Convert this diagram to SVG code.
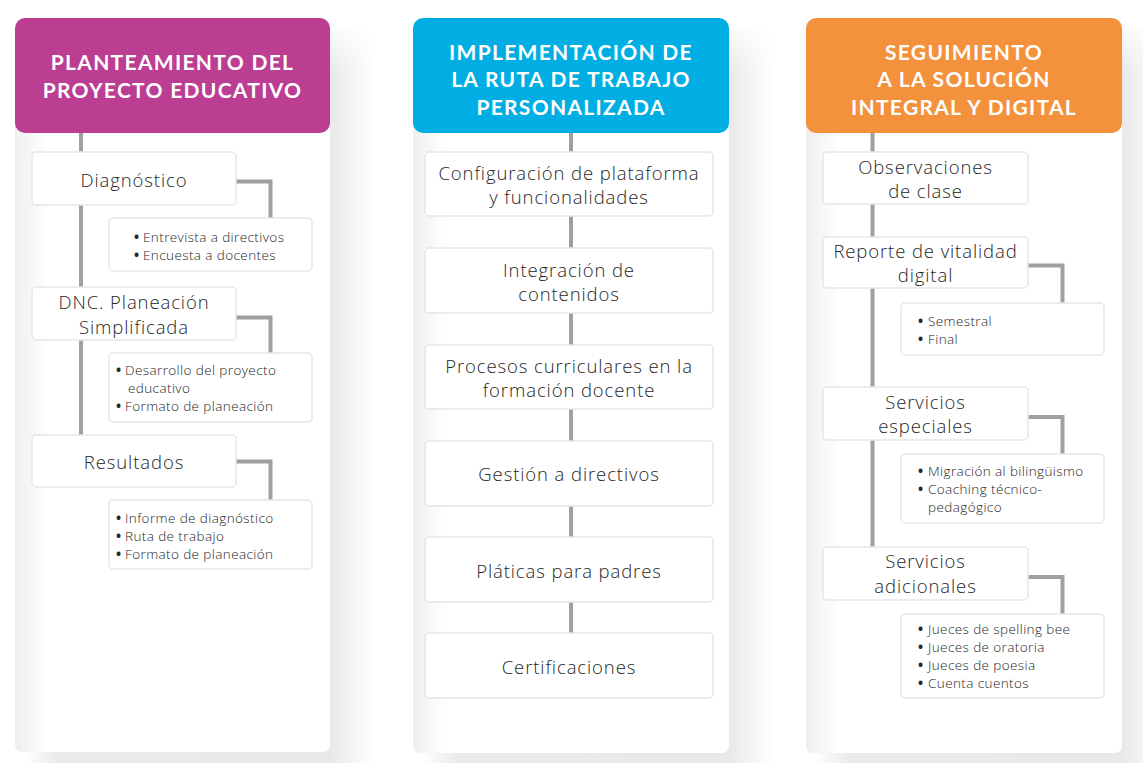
<svg xmlns="http://www.w3.org/2000/svg" width="1143" height="763" viewBox="0 0 1143 763">
<defs>
<linearGradient id="shadowH" x1="0" y1="0" x2="1" y2="0">
<stop offset="0" stop-color="#ffffff"/>
<stop offset="0.09" stop-color="#ebebeb"/>
<stop offset="0.87" stop-color="#e8e8e8"/>
<stop offset="1" stop-color="#ffffff"/>
</linearGradient>
<linearGradient id="topFade" x1="0" y1="0" x2="0" y2="1">
<stop offset="0" stop-color="#ffffff" stop-opacity="1"/>
<stop offset="1" stop-color="#ffffff" stop-opacity="0"/>
</linearGradient>
<linearGradient id="panelFill" x1="0" y1="0" x2="1" y2="0">
<stop offset="0" stop-color="#eeeeee"/>
<stop offset="0.1" stop-color="#ffffff"/>
<stop offset="1" stop-color="#ffffff"/>
</linearGradient>
</defs>
<style>
.panel{fill:url(#panelFill)}
.shadow{fill:url(#shadowH)}
.fade{fill:url(#topFade)}
.box{fill:#ffffff;stroke:#e6e6e6;stroke-width:1.5}
.line{fill:none;stroke:#9fa0a0;stroke-width:4}
.title{font-family:Lato,"Liberation Sans",sans-serif;font-weight:700;font-size:21px;fill:#ffffff;text-anchor:middle;letter-spacing:1.3px}
.t{font-family:"Open Sans","Liberation Sans",sans-serif;font-weight:300;font-size:18.5px;fill:#262626;text-anchor:middle;letter-spacing:0.9px}
.s{font-family:"Open Sans","Liberation Sans",sans-serif;font-weight:300;font-size:13.5px;fill:#262626;letter-spacing:0.4px}
.b{font-weight:700}
</style>
<rect width="1143" height="763" fill="#ffffff"/>

<g id="backgrounds">
<rect class="shadow" x="25" y="30" width="350" height="745"/>
<rect class="fade" x="328" y="18" width="50" height="55"/>
<rect class="shadow" x="423" y="30" width="350" height="745"/>
<rect class="fade" x="727" y="18" width="50" height="55"/>
<rect class="shadow" x="816" y="30" width="350" height="745"/>
<rect class="fade" x="1120" y="18" width="50" height="55"/>
<rect class="panel" x="15" y="30" width="315" height="722" rx="7"/>
<rect class="panel" x="413" y="30" width="316" height="723" rx="7"/>
<rect class="panel" x="806" y="30" width="316" height="723" rx="7"/>
</g>

<g id="connectors">
<line class="line" x1="81" y1="133" x2="81" y2="435"/>
<polyline class="line" points="236,181.5 270.5,181.5 270.5,218"/>
<polyline class="line" points="236,317.5 270.5,317.5 270.5,353"/>
<polyline class="line" points="236,461.5 270.5,461.5 270.5,500"/>
<line class="line" x1="571" y1="133" x2="571" y2="633"/>
<line class="line" x1="872.5" y1="133" x2="872.5" y2="547"/>
<polyline class="line" points="1028,265.5 1062.5,265.5 1062.5,303"/>
<polyline class="line" points="1028,417 1062.5,417 1062.5,454"/>
<polyline class="line" points="1028,577 1062.5,577 1062.5,614"/>
</g>

<g id="header-planteamiento">
<rect x="15" y="18" width="315" height="115" rx="10" fill="#bc3e93"/>
<text class="title" x="172.5" y="70">PLANTEAMIENTO DEL</text>
<text class="title" x="172.5" y="98">PROYECTO EDUCATIVO</text>
</g>
<g id="header-implementacion">
<rect x="413" y="18" width="316" height="115" rx="10" fill="#00aee3"/>
<text class="title" x="571" y="60">IMPLEMENTACIÓN DE</text>
<text class="title" x="571" y="87">LA RUTA DE TRABAJO</text>
<text class="title" x="571" y="115">PERSONALIZADA</text>
</g>
<g id="header-seguimiento">
<rect x="806" y="18" width="316" height="115" rx="10" fill="#f4913d"/>
<text class="title" x="964" y="60">SEGUIMIENTO</text>
<text class="title" x="964" y="87">A LA SOLUCIÓN</text>
<text class="title" x="964" y="115">INTEGRAL Y DIGITAL</text>
</g>

<g id="diagnostico">
<rect class="box" x="32" y="152" width="204" height="53" rx="4"/>
<text class="t" x="134" y="187">Diagnóstico</text>
</g>
<g id="diagnostico-items">
<rect class="box" x="109" y="218" width="203" height="53" rx="4"/>
<text class="s" y="242"><tspan class="b" x="134">•</tspan><tspan x="143">Entrevista a directivos</tspan></text>
<text class="s" y="260"><tspan class="b" x="134">•</tspan><tspan x="143">Encuesta a docentes</tspan></text>
</g>
<g id="dnc">
<rect class="box" x="32" y="287" width="204" height="53" rx="4"/>
<text class="t" x="134" y="309">DNC. Planeación</text>
<text class="t" x="134" y="334">Simplificada</text>
</g>
<g id="dnc-items">
<rect class="box" x="109" y="353" width="203" height="69" rx="4"/>
<text class="s" y="375"><tspan class="b" x="116">•</tspan><tspan x="125">Desarrollo del proyecto</tspan></text>
<text class="s" x="128" y="393">educativo</text>
<text class="s" y="411"><tspan class="b" x="116">•</tspan><tspan x="125">Formato de planeación</tspan></text>
</g>
<g id="resultados">
<rect class="box" x="32" y="435" width="204" height="52" rx="4"/>
<text class="t" x="134" y="469">Resultados</text>
</g>
<g id="resultados-items">
<rect class="box" x="109" y="500" width="203" height="69" rx="4"/>
<text class="s" y="523"><tspan class="b" x="116">•</tspan><tspan x="125">Informe de diagnóstico</tspan></text>
<text class="s" y="541"><tspan class="b" x="116">•</tspan><tspan x="125">Ruta de trabajo</tspan></text>
<text class="s" y="559"><tspan class="b" x="116">•</tspan><tspan x="125">Formato de planeación</tspan></text>
</g>

<g id="configuracion">
<rect class="box" x="425" y="152" width="288" height="64" rx="4"/>
<text class="t" x="569" y="180">Configuración de plataforma</text>
<text class="t" x="569" y="204">y funcionalidades</text>
</g>
<g id="integracion">
<rect class="box" x="425" y="248" width="288" height="65" rx="4"/>
<text class="t" x="569" y="277">Integración de</text>
<text class="t" x="569" y="301">contenidos</text>
</g>
<g id="procesos">
<rect class="box" x="425" y="345" width="288" height="64" rx="4"/>
<text class="t" x="569" y="373">Procesos curriculares en la</text>
<text class="t" x="569" y="397">formación docente</text>
</g>
<g id="gestion">
<rect class="box" x="425" y="441" width="288" height="65" rx="4"/>
<text class="t" x="569" y="481">Gestión a directivos</text>
</g>
<g id="platicas">
<rect class="box" x="425" y="537" width="288" height="65" rx="4"/>
<text class="t" x="569" y="578">Pláticas para padres</text>
</g>
<g id="certificaciones">
<rect class="box" x="425" y="633" width="288" height="65" rx="4"/>
<text class="t" x="569" y="674">Certificaciones</text>
</g>

<g id="observaciones">
<rect class="box" x="823" y="152" width="205" height="52" rx="4"/>
<text class="t" x="925.5" y="174">Observaciones</text>
<text class="t" x="925.5" y="198">de clase</text>
</g>
<g id="reporte">
<rect class="box" x="823" y="237" width="205" height="51" rx="4"/>
<text class="t" x="925.5" y="258">Reporte de vitalidad</text>
<text class="t" x="925.5" y="282">digital</text>
</g>
<g id="reporte-items">
<rect class="box" x="901" y="303" width="203" height="52" rx="4"/>
<text class="s" y="326"><tspan class="b" x="918">•</tspan><tspan x="928">Semestral</tspan></text>
<text class="s" y="344"><tspan class="b" x="918">•</tspan><tspan x="928">Final</tspan></text>
</g>
<g id="especiales">
<rect class="box" x="823" y="387" width="205" height="53" rx="4"/>
<text class="t" x="925.5" y="409">Servicios</text>
<text class="t" x="925.5" y="433">especiales</text>
</g>
<g id="especiales-items">
<rect class="box" x="901" y="454" width="203" height="69" rx="4"/>
<text class="s" y="476"><tspan class="b" x="918">•</tspan><tspan x="928">Migración al bilingüismo</tspan></text>
<text class="s" y="494"><tspan class="b" x="918">•</tspan><tspan x="928">Coaching técnico-</tspan></text>
<text class="s" x="928" y="512">pedagógico</text>
</g>
<g id="adicionales">
<rect class="box" x="823" y="547" width="205" height="53" rx="4"/>
<text class="t" x="925.5" y="568">Servicios</text>
<text class="t" x="925.5" y="593">adicionales</text>
</g>
<g id="adicionales-items">
<rect class="box" x="901" y="614" width="203" height="84" rx="4"/>
<text class="s" y="634"><tspan class="b" x="918">•</tspan><tspan x="928">Jueces de spelling bee</tspan></text>
<text class="s" y="652"><tspan class="b" x="918">•</tspan><tspan x="928">Jueces de oratoria</tspan></text>
<text class="s" y="670"><tspan class="b" x="918">•</tspan><tspan x="928">Jueces de poesia</tspan></text>
<text class="s" y="688"><tspan class="b" x="918">•</tspan><tspan x="928">Cuenta cuentos</tspan></text>
</g>
</svg>
